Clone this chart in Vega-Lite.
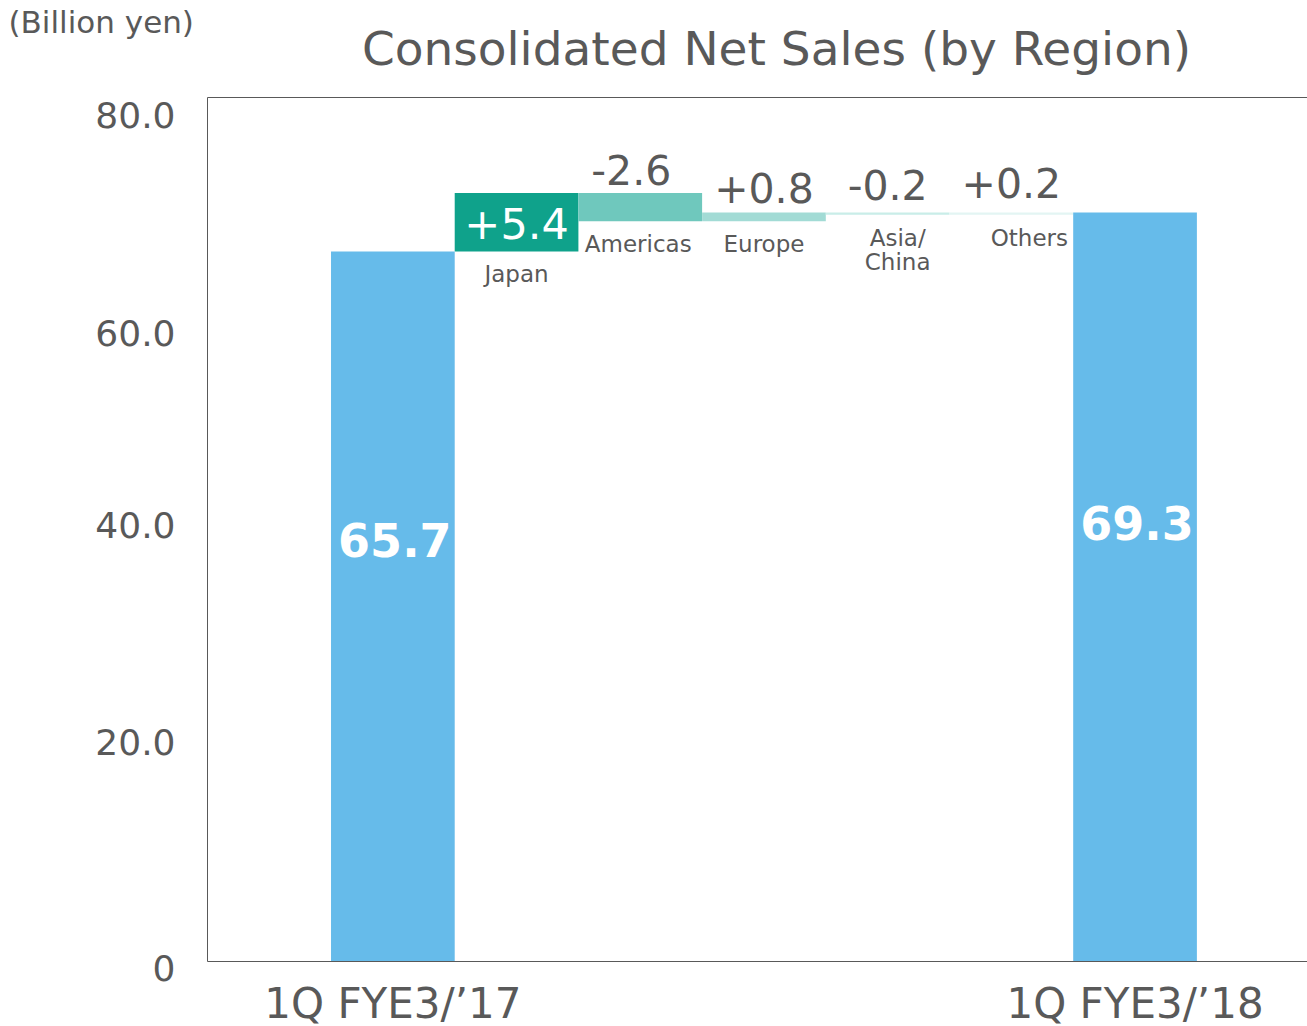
{
  "$schema": "https://vega.github.io/schema/vega-lite/v6.json",
  "autosize": {"type": "none"},
  "padding": {"left": 207, "top": 97, "right": 0, "bottom": 65},
  "width": 1103,
  "height": 864,
  "background": "white",
  "config": {
    "font": "DejaVu Sans",
    "view": {"stroke": "#595959", "strokeWidth": 1}
  },
  "title": {
    "text": "Consolidated Net Sales (by Region)",
    "fontSize": 47,
    "fontWeight": "normal",
    "color": "#595959",
    "anchor": "middle",
    "frame": "group",
    "dx": 18,
    "baseline": "alphabetic",
    "offset": -105
  },
  "data": {
    "values": [
      {"cat": "1Q FYE3/’17", "low": 0, "high": 65.7, "kind": "total", "label": "65.7", "name": ""},
      {"cat": "Japan", "low": 65.7, "high": 71.1, "kind": "up", "label": "+5.4", "name": "Japan"},
      {"cat": "Americas", "low": 68.5, "high": 71.1, "kind": "down", "label": "-2.6", "name": "Americas"},
      {"cat": "Europe", "low": 68.5, "high": 69.3, "kind": "up", "label": "+0.8", "name": "Europe"},
      {"cat": "Asia/China", "low": 69.1, "high": 69.3, "kind": "down", "label": "-0.2", "name": "Asia/\nChina"},
      {"cat": "Others", "low": 69.1, "high": 69.3, "kind": "up", "label": "+0.2", "name": "Others"},
      {"cat": "1Q FYE3/’18", "low": 0, "high": 69.3, "kind": "total", "label": "69.3", "name": ""}
    ]
  },
  "encoding": {
    "x": {
      "field": "cat",
      "type": "nominal",
      "sort": null,
      "scale": {"paddingInner": 0, "paddingOuter": 0.9585, "align": 0.523},
      "axis": {
        "title": null,
        "domain": false,
        "ticks": false,
        "tickSize": 0,
        "labelAngle": 0,
        "labelLimit": 0,
        "labelExpr": "indexof(datum.label, '1Q') == 0 ? datum.label : ''",
        "labelFontSize": 42,
        "labelColor": "#595959",
        "labelBaseline": "alphabetic",
        "labelPadding": 56
      }
    }
  },
  "layer": [
    {
      "mark": {"type": "bar"},
      "encoding": {
        "y": {
          "field": "low",
          "type": "quantitative",
          "scale": {"domain": [0, 80], "nice": false},
          "axis": {
            "title": "(Billion yen)",
            "titleAngle": 0,
            "titleX": -199,
            "titleY": -65,
            "titleAlign": "left",
            "titleBaseline": "alphabetic",
            "titleFontSize": 31,
            "titleFontWeight": "normal",
            "titleColor": "#595959",
            "values": [0, 20, 40, 60, 80],
            "grid": false,
            "domain": false,
            "ticks": false,
            "tickSize": 0,
            "labelExpr": "datum.value == 0 ? '0' : format(datum.value, '.1f')",
            "labelFontSize": 36,
            "labelColor": "#595959",
            "labelPadding": 32,
            "labelBaseline": "alphabetic",
            "labelOffset": {
              "condition": [
                {"test": "datum.value == 80", "value": 30},
                {"test": "datum.value == 60", "value": 32},
                {"test": "datum.value == 40", "value": 8},
                {"test": "datum.value == 20", "value": 9}
              ],
              "value": 19
            }
          }
        },
        "y2": {"field": "high"},
        "color": {
          "field": "cat",
          "type": "nominal",
          "legend": null,
          "scale": {
            "domain": ["1Q FYE3/’17", "Japan", "Americas", "Europe", "Asia/China", "Others", "1Q FYE3/’18"],
            "range": ["#66BBEA", "#0FA28B", "#6FC8BD", "#A2DBD5", "#C9EDE8", "#E3F5F3", "#66BBEA"]
          }
        }
      }
    },
    {
      "transform": [{"filter": "datum.kind == 'total'"}],
      "mark": {
        "type": "text",
        "color": "white",
        "fontSize": 46,
        "fontWeight": "bold",
        "baseline": "alphabetic",
        "dx": 2,
        "dy": {"expr": "datum.cat == '1Q FYE3/’17' ? 306 : 327"}
      },
      "encoding": {
        "y": {"field": "high", "type": "quantitative"},
        "text": {"field": "label"}
      }
    },
    {
      "transform": [{"filter": "datum.cat == 'Japan'"}],
      "mark": {
        "type": "text",
        "color": "white",
        "fontSize": 43,
        "baseline": "alphabetic",
        "dy": 46
      },
      "encoding": {
        "y": {"field": "high", "type": "quantitative"},
        "text": {"field": "label"}
      }
    },
    {
      "transform": [{"filter": "datum.kind != 'total' && datum.cat != 'Japan'"}],
      "mark": {
        "type": "text",
        "color": "#595959",
        "fontSize": 41,
        "baseline": "alphabetic",
        "dx": {"expr": "datum.cat == 'Americas' ? -9 : 0"},
        "dy": {"expr": "datum.cat == 'Americas' ? -8 : datum.cat == 'Europe' ? -10 : datum.cat == 'Asia/China' ? -13 : -15"}
      },
      "encoding": {
        "y": {"field": "high", "type": "quantitative"},
        "text": {"field": "label"}
      }
    },
    {
      "transform": [{"filter": "datum.kind != 'total'"}],
      "mark": {
        "type": "text",
        "color": "#595959",
        "fontSize": 23,
        "baseline": "alphabetic",
        "lineBreak": "\n",
        "lineHeight": 24,
        "dx": {"expr": "datum.cat == 'Americas' ? -2 : datum.cat == 'Asia/China' ? 10 : datum.cat == 'Others' ? 18 : 0"},
        "dy": 31
      },
      "encoding": {
        "y": {"field": "low", "type": "quantitative"},
        "text": {"field": "name"}
      }
    }
  ]
}
